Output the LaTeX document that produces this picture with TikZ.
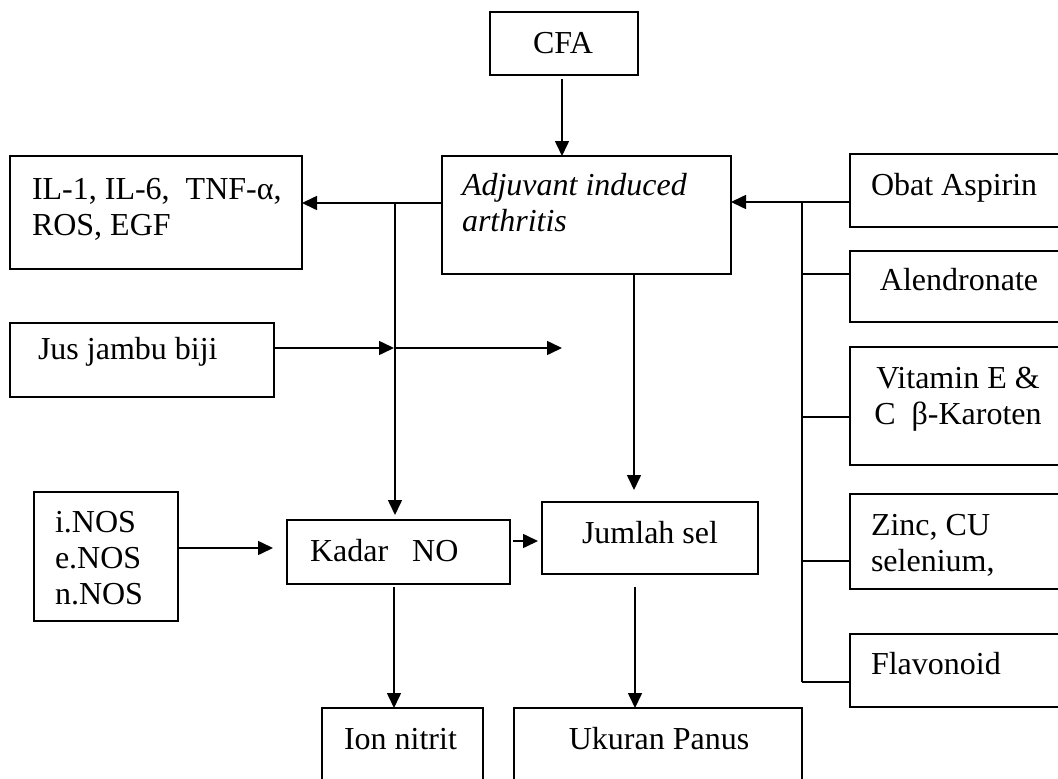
\documentclass[tikz,border=0pt]{standalone}
\usepackage{fontspec}
\setmainfont{Liberation Serif}
\usetikzlibrary{arrows.meta,calc}
\begin{document}
\begin{tikzpicture}[x=1pt,y=-1pt,
  box/.style={draw, line width=1.6pt, rectangle, inner sep=0pt, outer sep=0pt, anchor=north west},
  txt/.style={inner sep=0pt, outer sep=0pt, font=\fontsize{32}{36}\selectfont},
  itxt/.style={inner sep=0pt, outer sep=0pt, font=\fontsize{32}{36}\selectfont\itshape},
  arr/.style={line width=1.6pt, -{Triangle[length=15pt,width=14pt]}},
  ln/.style={line width=1.6pt}]
\useasboundingbox (0,0) rectangle (1058,779);
\fill[white] (0,0) rectangle (1058,779);
\clip (0,0) rectangle (1058,779);

% boxes
\node[box, minimum width=148pt, minimum height=63pt]  (cfa)    at (490,12)  {};
\node[box, minimum width=289pt, minimum height=118pt] (aia)    at (442,156) {};
\node[box, minimum width=292pt, minimum height=113pt] (il)     at (10,156)  {};
\node[box, minimum width=264pt, minimum height=74pt]  (jus)    at (10,323)  {};
\node[box, minimum width=144pt, minimum height=129pt] (nos)    at (34,492)  {};
\node[box, minimum width=223pt, minimum height=64pt]  (kadar)  at (287,520) {};
\node[box, minimum width=216pt, minimum height=72pt]  (jumlah) at (542,502) {};
\node[box, minimum width=161pt, minimum height=100pt] (ion)    at (322,708) {};
\node[box, minimum width=288pt, minimum height=100pt] (ukuran) at (514,708) {};
\node[box, minimum width=230pt, minimum height=73pt]  (obat)   at (850,154) {};
\node[box, minimum width=230pt, minimum height=71pt]  (alen)   at (850,251) {};
\node[box, minimum width=230pt, minimum height=118pt] (vit)    at (850,347) {};
\node[box, minimum width=230pt, minimum height=95pt]  (zinc)   at (850,494) {};
\node[box, minimum width=230pt, minimum height=73pt]  (flav)   at (850,634) {};

% texts
\node[txt, anchor=base] (cfat) at (563,53) {CFA};
\node[itxt, anchor=base west] (aiat) at (462,195) {\vtop{\hbox{Adjuvant induced}\hbox{arthritis}}};
\node[txt, anchor=base west] (ilt) at (32,199) {\vtop{\hbox{IL-1, IL-6,\ \ TNF-α,}\hbox{ROS, EGF}}};
\node[txt, anchor=base west] (just) at (38,359) {Jus jambu biji};
\node[txt, anchor=base west] (nost) at (55,532) {\vtop{\hbox{i.NOS}\hbox{e.NOS}\hbox{n.NOS}}};
\node[txt, anchor=base west] (kadart) at (310,561) {Kadar\ \ \ NO};
\node[txt, anchor=base] (jumlaht) at (650,543) {Jumlah sel};
\node[txt, anchor=base west] (iont) at (344,749) {Ion nitrit};
\node[txt, anchor=base] (ukurant) at (659,749) {Ukuran Panus};
\node[txt, anchor=base west] (obatt) at (871,195) {Obat Aspirin};
\node[txt, anchor=base] (alent) at (959,290) {Alendronate};
\node[txt, anchor=base] (vitt) at (958,388) {\vtop{\hbox to 200pt{\hfil Vitamin E \&\hfil}\hbox to 200pt{\hfil C\ \ β-Karoten\hfil}}};
\node[txt, anchor=base west] (zinct) at (871,535) {\vtop{\hbox{Zinc, CU}\hbox{selenium,}}};
\node[txt, anchor=base west] (flavt) at (871,674) {Flavonoid};

% junction coordinates
\coordinate (jil) at (395,203);
\coordinate (jx)  at (394,348);
\coordinate (jend) at (562,348);
\coordinate (bt) at (802,202);
\coordinate (b2) at (802,274);
\coordinate (b3) at (802,417);
\coordinate (b4) at (802,561);
\coordinate (bb) at (802,682);
\coordinate (aj) at (634,274);
\coordinate (ny) at (0,548);
\coordinate (ky) at (0,541);
\coordinate (dx1) at (394,0);
\coordinate (dx2) at (635,0);

% connectors
\draw[arr] ($(cfa.south)+(-2pt,-4pt)$) -- (aia.north -| 562,0);
\draw[arr] (aia.west |- jil) -- (il.east |- jil);
\draw[arr] (jil) -- ($(jil |- kadar.north)+(0,5pt)$);
\draw[arr] (jus.east |- jx) -- (jx);
\draw[arr] (jx) -- (jend);
\draw[arr] (nos.east |- ny) -- ($(kadar.west |- ny)+(-14pt,0)$);
\draw[arr] ($(kadar.east |- ky)+(3pt,0)$) -- ($(jumlah.west |- ky)+(-4pt,0)$);
\draw[arr] (aia.south -| aj) -- ($(jumlah.north -| aj)+(0,12pt)$);
\draw[arr] ($(kadar.south -| dx1)+(0,-3pt)$) -- (ion.north -| dx1);
\draw[arr] ($(jumlah.south -| dx2)+(0,-13pt)$) -- (ukuran.north -| dx2);
\draw[ln] (bt) -- (bb);
\draw[arr] (obat.west |- bt) -- (aia.east |- bt);
\draw[ln] (b2) -- (alen.west |- b2);
\draw[ln] (b3) -- (vit.west |- b3);
\draw[ln] (b4) -- (zinc.west |- b4);
\draw[ln] (bb) -- (flav.west |- bb);
\end{tikzpicture}
\end{document}
